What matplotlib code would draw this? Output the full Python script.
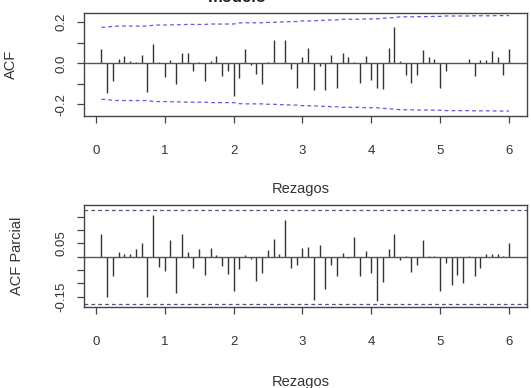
import numpy as np
import matplotlib
matplotlib.use('Agg')
import matplotlib.pyplot as plt

plt.rcParams['font.family'] = ['Liberation Sans', 'DejaVu Sans']

# lags are k/12, k = 1..72
lags = np.arange(1, 73) / 12.0

acf_vals = [0.07, -0.145, -0.085, 0.02, 0.035, 0.01, 0.005, 0.04, -0.14, 0.095,
            0.005, -0.065, 0.015, -0.1, 0.05, 0.05, -0.035, 0.005, -0.085, 0.01,
            0.035, -0.06, -0.035, -0.16, -0.07, 0.07, -0.01, -0.05, -0.1, 0.005,
            0.115, 0.0, 0.115, -0.03, -0.12, 0.03, 0.075, -0.13, -0.015, -0.13,
            0.04, -0.12, 0.05, 0.03, 0.005, -0.095, 0.035, -0.08, -0.12, -0.125,
            0.075, 0.175, 0.01, -0.055, -0.095, -0.055, 0.065, 0.03, 0.02, -0.12,
            -0.035, 0.003, 0.003, 0.003, 0.02, -0.06, 0.015, 0.015, 0.06, 0.03,
            -0.055, 0.07]

# upper limit of the ACF band
acf_band = [0.175, 0.176, 0.180, 0.181, 0.181, 0.181, 0.181, 0.181, 0.181, 0.185,
            0.186, 0.186, 0.187, 0.187, 0.188, 0.189, 0.189, 0.189, 0.189, 0.191,
            0.191, 0.191, 0.191, 0.191, 0.196, 0.197, 0.197, 0.197, 0.197, 0.199,
            0.199, 0.201, 0.201, 0.203, 0.203, 0.206, 0.206, 0.206, 0.209, 0.209,
            0.211, 0.211, 0.214, 0.214, 0.214, 0.214, 0.216, 0.216, 0.216, 0.219,
            0.221, 0.222, 0.226, 0.226, 0.226, 0.227, 0.227, 0.227, 0.228, 0.228,
            0.230, 0.230, 0.230, 0.230, 0.230, 0.231, 0.231, 0.231, 0.231, 0.232,
            0.232, 0.232]

pacf_vals = [0.085, -0.15, -0.073, 0.019, 0.011, 0.011, 0.028, 0.053, -0.15, 0.155,
             -0.04, -0.055, 0.062, -0.137, 0.085, 0.019, -0.042, 0.028, -0.067, 0.034,
             0.005, -0.035, -0.065, -0.128, -0.048, 0.005, -0.01, -0.09, -0.06, 0.024,
             0.066, 0.011, 0.138, -0.044, -0.032, 0.032, 0.037, -0.162, 0.044, -0.122,
             -0.03, -0.071, 0.015, -0.005, 0.072, -0.073, 0.022, -0.061, -0.166, -0.095,
             0.03, 0.085, -0.013, 0.003, -0.057, -0.03, 0.062, 0.002, 0.002, -0.128,
             -0.023, -0.108, -0.067, -0.1, 0.002, -0.073, -0.044, 0.009, 0.009, 0.009,
             0.003, 0.053]
pacf_band = 0.176

xticks = [0, 1, 2, 3, 4, 5, 6]

fig = plt.figure(figsize=(5.31, 3.88), dpi=100)
ax1 = fig.add_axes([84/531, 1-116/388, 443/531, 103.3/388])
ax2 = fig.add_axes([84/531, 1-307/388, 443/531, 102/388])

txt = '#333333'
bar_col = '#333333'

# ACF panel
ax1.vlines(lags, 0, acf_vals, color=bar_col, lw=1.0)
ax1.axhline(0, color='#555555', lw=1.0)
ax1.plot(lags, acf_band, color='#5c5ce0', lw=0.9, ls=(0, (3, 2.5)))
ax1.plot(lags, -np.array(acf_band), color='#5c5ce0', lw=0.9, ls=(0, (3, 2.5)))
ax1.set_ylim(-0.256, 0.246)
ax1.set_yticks([-0.2, -0.1, 0.0, 0.1, 0.2])
ax1.set_yticklabels(['-0.2', '', '0.0', '', '0.2'])
ax1.set_ylabel('ACF', fontsize=10.5, color=txt)
ax1.yaxis.set_label_coords(-0.149, 0.5)
ax1.set_xlabel('Rezagos', fontsize=10.5, color=txt)
ax1.xaxis.set_label_coords(0.49, -0.64)

# PACF panel
ax2.vlines(lags, 0, pacf_vals, color=bar_col, lw=1.0)
ax2.axhline(0, color='#555555', lw=1.0)
ax2.axhline(pacf_band, color='#555577', lw=0.9, ls=(0, (3, 2.5)))
ax2.axhline(-pacf_band, color='#555577', lw=0.9, ls=(0, (3, 2.5)))
ax2.set_ylim(-0.189, 0.194)
ax2.set_yticks([-0.15, -0.1, -0.05, 0.0, 0.05, 0.1, 0.15])
ax2.set_yticklabels(['-0.15', '', '', '', '0.05', '', ''])
ax2.set_ylabel('ACF Parcial', fontsize=10.5, color=txt)
ax2.yaxis.set_label_coords(-0.135, 0.5)
ax2.set_xlabel('Rezagos', fontsize=10.5, color=txt)
ax2.xaxis.set_label_coords(0.49, -0.665)

for ax in (ax1, ax2):
    ax.set_xlim(-0.17, 6.26)
    ax.set_xticks(xticks)
    ax.set_xticklabels([str(t) for t in xticks])
    ax.tick_params(direction='out', length=5, width=0.9, color='#444444',
                   labelsize=9.5, labelcolor=txt)
    ax.tick_params(axis='x', pad=16)
    ax.tick_params(axis='y', pad=7)
    for lab in ax.get_yticklabels():
        lab.set_rotation(90)
        lab.set_va('center')
    for s in ax.spines.values():
        s.set_color('#444444')
        s.set_linewidth(1.0)

# title sits mostly above the top edge, as in the source image
fig.text(237/531, 1-2.5/388, 'modelo', ha='center', va='baseline',
         fontsize=12, fontweight='bold', color='#222222')

fig.savefig('out.png', dpi=100)
